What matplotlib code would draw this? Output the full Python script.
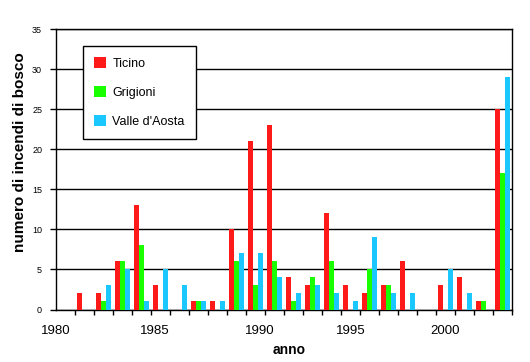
import matplotlib
matplotlib.use("Agg")
import matplotlib.pyplot as plt
import numpy as np

years = list(range(1980, 2004))
ticino = [0, 2, 2, 6, 13, 3, 0, 1, 1, 10, 21, 23, 4, 3, 12, 3, 2, 3, 6, 0, 3, 4, 1, 25]
grigioni = [0, 0, 1, 6, 8, 0, 0, 1, 0, 6, 3, 6, 1, 4, 6, 0, 5, 3, 0, 0, 0, 0, 1, 17]
valle = [0, 0, 3, 5, 1, 5, 3, 1, 1, 7, 7, 4, 2, 3, 2, 1, 9, 2, 2, 0, 5, 2, 0, 29]
series_names = ["Ticino", "Grigioni", "Valle d'Aosta"]
colors = ["#FF1A1A", "#1AFF00", "#1AC8FF"]
xtick_labels = ["1980", "1985", "1990", "1995", "2000"]
label_pos = [1980.0, 1985.2, 1990.7, 1995.5, 2000.5]

plt.rcParams['font.family'] = ['Liberation Sans', 'DejaVu Sans']

fig = plt.figure(figsize=(5.3, 3.62), dpi=100)
ax = fig.add_axes([56/530, (362-309.5)/362, 456/530, (309.5-29.3)/362])

x = np.array(years) + 0.5
w = 0.25
for i, (vals, name, c) in enumerate(zip([ticino, grigioni, valle], series_names, colors)):
    ax.bar(x + (i - 1) * w, vals, width=w, color=c, label=name, zorder=3, linewidth=0)

ax.set_xlim(1980, 2004)
ax.set_ylim(0, 35)
ax.set_yticks(range(0, 36, 5))
ax.yaxis.grid(True, color='black', linewidth=1, zorder=1)
ax.set_axisbelow(True)
for s in ax.spines.values():
    s.set_color('black')
    s.set_linewidth(1)
ax.tick_params(axis='y', length=4, width=1, pad=6, labelsize=6.5, direction='out')

# integer tick marks without labels, labels on separate major ticks
ax.set_xticks(label_pos)
ax.set_xticklabels(xtick_labels)
ax.tick_params(axis='x', which='major', length=0, pad=11, labelsize=9.5)
ax.set_xticks(years + [2004], minor=True)
ax.tick_params(axis='x', which='minor', length=3.5, width=1, direction='out')

ax.set_ylabel("numero di incendi di bosco", fontsize=11, fontweight='bold')
ax.yaxis.set_label_coords(-0.063, 0.563)
ax.set_xlabel("anno", fontsize=10, fontweight='bold')
ax.xaxis.set_label_coords(0.511, -0.118)

leg = ax.legend(loc='upper left', bbox_to_anchor=(83/530, 1 - 46/362),
                bbox_transform=fig.transFigure, borderaxespad=0,
                fontsize=9, handlelength=0.96, handleheight=0.96,
                labelspacing=1.3, handletextpad=0.5, borderpad=0.9,
                fancybox=False, framealpha=1, edgecolor='black')
leg.get_frame().set_linewidth(1)
leg.set_zorder(5)

fig.savefig("out.png", dpi=100)
